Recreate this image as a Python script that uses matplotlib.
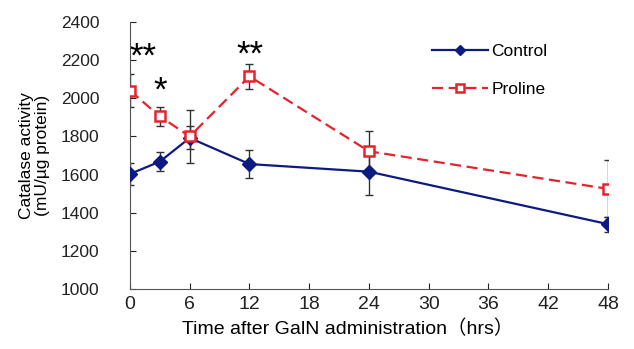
import matplotlib.pyplot as plt

plt.rcParams['font.family'] = ['Liberation Sans', 'Noto Sans CJK JP']

# Time points (hrs)
hours = [0, 3, 6, 12, 24, 48]

# Catalase activity, mean and SD
control = [1603, 1668, 1792, 1655, 1615, 1340]
control_err = [60, 50, 60, 75, 120, 40]
proline = [2040, 1905, 1800, 2115, 1722, 1525]
proline_err = [85, 50, 140, 65, 105, 150]

# significance marks: (x, y, text)
marks = [(1.3, 2215, '**'), (3, 2035, '*'), (12, 2225, '**')]

fig = plt.figure(figsize=(6.34, 3.49), dpi=100)
ax = fig.add_axes([0.205, 0.172, 0.754, 0.765])

ax.errorbar(hours, proline, yerr=proline_err, fmt='none', ecolor='#333333',
            elinewidth=1, capsize=3, capthick=1, zorder=1)
ax.errorbar(hours, control, yerr=control_err, fmt='none', ecolor='#333333',
            elinewidth=1, capsize=3, capthick=1, zorder=1)

ax.plot(hours, control, color='#0d1a80', lw=1.6, marker='D', ms=7,
        mfc='#0d1a80', mec='#0d1a80', label='Control', zorder=3)
ax.plot(hours, proline, color='#e8222a', lw=1.6, ls=(0, (5, 2.5)), marker='s', ms=7,
        mfc='white', mec='#e8222a', mew=1.8, label='Proline', zorder=4)

for x, y, s in marks:
    ax.text(x, y, s, ha='center', va='center', fontsize=25)

ax.set_xlim(0, 48)
ax.set_ylim(1000, 2400)
ax.set_xticks(range(0, 49, 6))
ax.set_yticks(range(1000, 2401, 200))
ax.tick_params(direction='in', length=4, colors='#222222')
ax.tick_params(axis='x', labelsize=14, pad=5)
ax.tick_params(axis='y', labelsize=12.5, pad=22)
for side in ['top', 'right']:
    ax.spines[side].set_visible(False)
for side in ['left', 'bottom']:
    ax.spines[side].set_color('#555555')

ax.set_xlabel('Time after GalN administration（hrs）', fontsize=14)
ax.xaxis.set_label_coords(0.455, -0.115)
ax.set_ylabel('Catalase activity\n(mU/µg protein)', fontsize=12.5, labelpad=8,
              linespacing=1.05)

ax.legend(loc='upper left', bbox_to_anchor=(0.6, 0.975), frameon=False,
          fontsize=12.5, handlelength=3.2, handletextpad=0.2, labelspacing=1.3,
          markerscale=0.75)

fig.savefig('out.png', dpi=100)
